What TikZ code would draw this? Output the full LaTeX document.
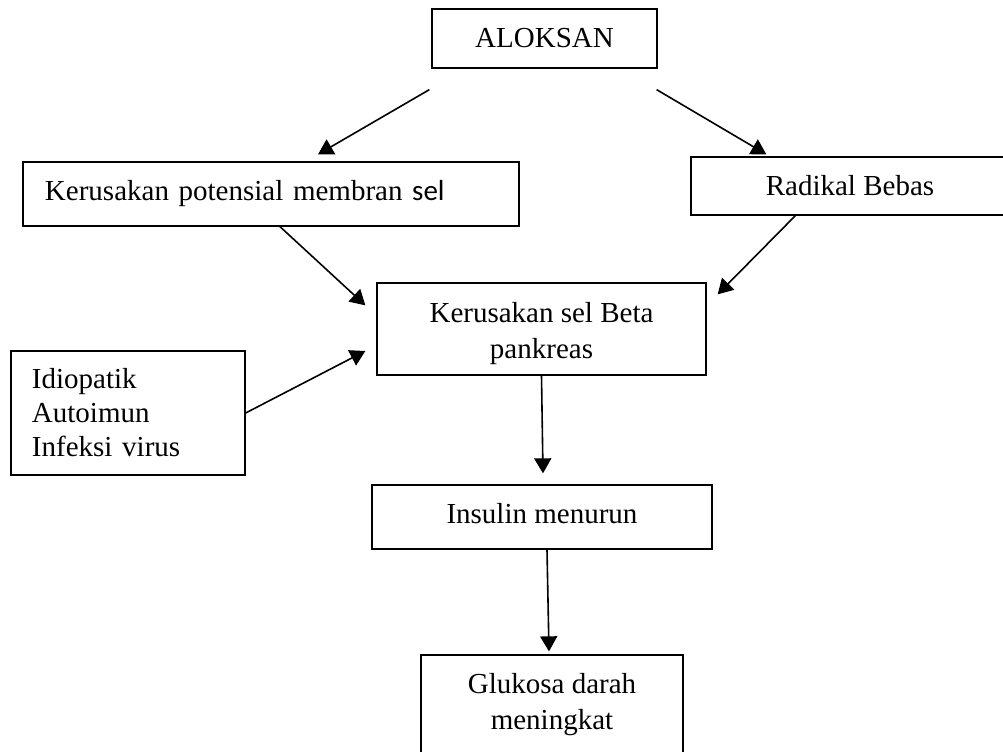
\documentclass[tikz,border=0pt]{standalone}
\usepackage{fontspec}
\setmainfont{Liberation Serif}
\newfontfamily\sansSel{Carlito}
\usetikzlibrary{arrows.meta, calc}

\begin{document}
\begin{tikzpicture}[x = 0.5pt, y = -0.5pt,
    kotak/.style = {draw, line width = 0.65pt, inner sep = 0pt, font = \fontsize{14.5}{18}\selectfont},
    panah/.style = {-{Triangle[length = 7.5pt, width = 8.5pt]}, line width = 0.8pt}]
    % Parameter
    \pgfmathsetmacro{\lebar}{1003}
    \pgfmathsetmacro{\tinggi}{751}
    % Bingkai
    \path[use as bounding box, clip] (0,0) rectangle (\lebar,\tinggi);
    % Kotak
    \node[kotak, minimum width = 112.5pt, minimum height = 29.5pt] (aloksan) at (544.5,38.5){ALOKSAN};
    \node[kotak, text width = 226pt, align = left, inner xsep = 11pt, minimum height = 32pt] (membran) at (271,194){Kerusakan potensial membran {\sansSel sel}};
    \node[kotak, minimum width = 159pt, minimum height = 29pt] (radikal) at (850,186){Radikal Bebas};
    \node[kotak, minimum width = 164.5pt, minimum height = 46pt, align = center] (beta) at (541.5,329){\rule{0pt}{15pt}Kerusakan sel Beta\\pankreas};
    \node[kotak, text width = 96pt, align = left, inner xsep = 10.5pt, minimum height = 62pt, font = \fontsize{14.5}{17}\selectfont] (idio) at (128,413){Idiopatik\\Autoimun\\Infeksi virus};
    \node[kotak, minimum width = 170pt, minimum height = 32pt, text depth = 4pt] (insulin) at (542,517){Insulin menurun};
    \node[kotak, minimum width = 131pt, minimum height = 50pt, align = center] (glukosa) at (552,705){Glukosa darah\\meningkat};
    % Panah
    \draw[panah] ([shift = {(-2,21)}]aloksan.south west) -- ([shift = {(47,-7)}]membran.north);
    \draw[panah] ([shift = {(-1,21)}]aloksan.south east) -- ([shift = {(76,-2)}]radikal.north west);
    \draw[panah] ([shift = {(9,0)}]membran.south) -- ([shift = {(-11,23)}]beta.north west);
    \draw[panah] ([shift = {(105,0)}]radikal.south west) -- ([shift = {(11,12)}]beta.north east);
    \draw[panah] (idio.east) -- ([shift = {(-11,22)}]beta.west);
    \draw[panah] (beta.south) -- ([shift = {(1,-11)}]insulin.north);
    \draw[panah] ([shift = {(5,0)}]insulin.south) -- ([shift = {(-3,-3)}]glukosa.north);
\end{tikzpicture}
\end{document}
